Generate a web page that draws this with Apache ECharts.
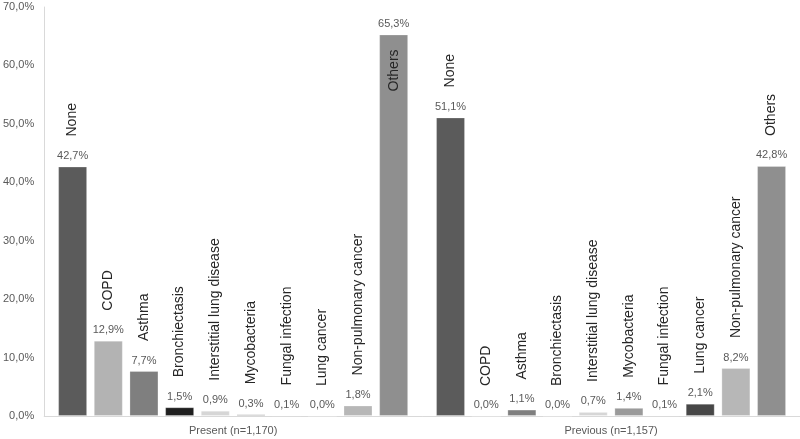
<!DOCTYPE html>
<html>
<head>
<meta charset="utf-8">
<script src="https://cdn.jsdelivr.net/npm/echarts@6/dist/echarts.min.js"></script>
<style>html,body{margin:0;padding:0;background:#fff}#c{width:800px;height:439px}</style>
</head>
<body>
<div id="c"></div>
<script>
const groups = ['Present (n=1,170)', 'Previous (n=1,157)'];
const conditions = ['None', 'COPD', 'Asthma', 'Bronchiectasis', 'Interstitial lung disease',
  'Mycobacteria', 'Fungal infection', 'Lung cancer', 'Non-pulmonary cancer', 'Others'];
const presentValues = [42.7, 12.9, 7.7, 1.5, 0.9, 0.3, 0.1, 0.0, 1.8, 65.3];
const previousValues = [51.1, 0.0, 1.1, 0.0, 0.7, 1.4, 0.1, 2.1, 8.2, 42.8];
const yTicks = [0, 10, 20, 30, 40, 50, 60, 70];

const colors = ['#5b5b5b', '#b3b3b3', '#7f7f7f', '#1f1f1f', '#d6d6d6',
  '#9a9a9a', '#505050', '#474747', '#b7b7b7', '#8f8f8f'];

const fmt = v => v.toFixed(1).replace('.', ',') + '%';
const FONT = '"Liberation Sans", Arial, sans-serif';
const BW = 29, GAP = '23%';

const series = [];
conditions.forEach((name, i) => {
  const vals = [presentValues[i], previousValues[i]];
  series.push({
    type: 'bar', name: name, stack: 's' + i,
    barWidth: BW, barGap: GAP, barCategoryGap: '7%',
    data: vals,
    itemStyle: { color: colors[i], borderColor: 'rgba(255,255,255,0.25)', borderWidth: 1 },
    label: {
      show: true, position: 'top', distance: 5,
      fontFamily: FONT, fontSize: 11, color: '#595959',
      formatter: p => fmt(p.value)
    },
    emphasis: { disabled: true }, silent: true, animation: false
  });
  // zero-height stacked bar carrying the rotated category name
  const nameData = vals.map((v, j) => {
    const item = { value: 0 };
    if (vals[j] > 60) {
      item.label = { position: [BW / 2, 57] };
    }
    return item;
  });
  series.push({
    type: 'bar', name: name + '_lbl', stack: 's' + i,
    barWidth: BW, barGap: GAP, barCategoryGap: '7%',
    data: nameData,
    itemStyle: { color: 'rgba(0,0,0,0)' },
    label: {
      show: true, position: 'top', distance: 30,
      rotate: 90, align: 'left', verticalAlign: 'middle',
      fontFamily: FONT, fontSize: 14, color: '#262626',
      formatter: () => name
    },
    emphasis: { disabled: true }, silent: true, animation: false
  });
});

const chart = echarts.init(document.getElementById('c'), null, { renderer: 'canvas' });
chart.setOption({
  animation: false,
  backgroundColor: '#ffffff',
  grid: { left: 41, right: 0, top: 7, bottom: 23, containLabel: false },
  xAxis: {
    type: 'category', data: groups,
    axisLine: { show: true, lineStyle: { color: '#d9d9d9', width: 1 } },
    axisTick: { show: false },
    axisLabel: { fontFamily: FONT, fontSize: 11, color: '#595959', margin: 9 }
  },
  yAxis: {
    type: 'value', min: yTicks[0], max: yTicks[yTicks.length - 1], interval: 10,
    axisLine: { show: true, lineStyle: { color: '#d9d9d9', width: 1 } },
    axisTick: { show: false },
    splitLine: { show: false },
    axisLabel: { fontFamily: FONT, fontSize: 11, color: '#595959', margin: 10,
      formatter: v => fmt(v) }
  },
  series: series
});
</script>
</body>
</html>
